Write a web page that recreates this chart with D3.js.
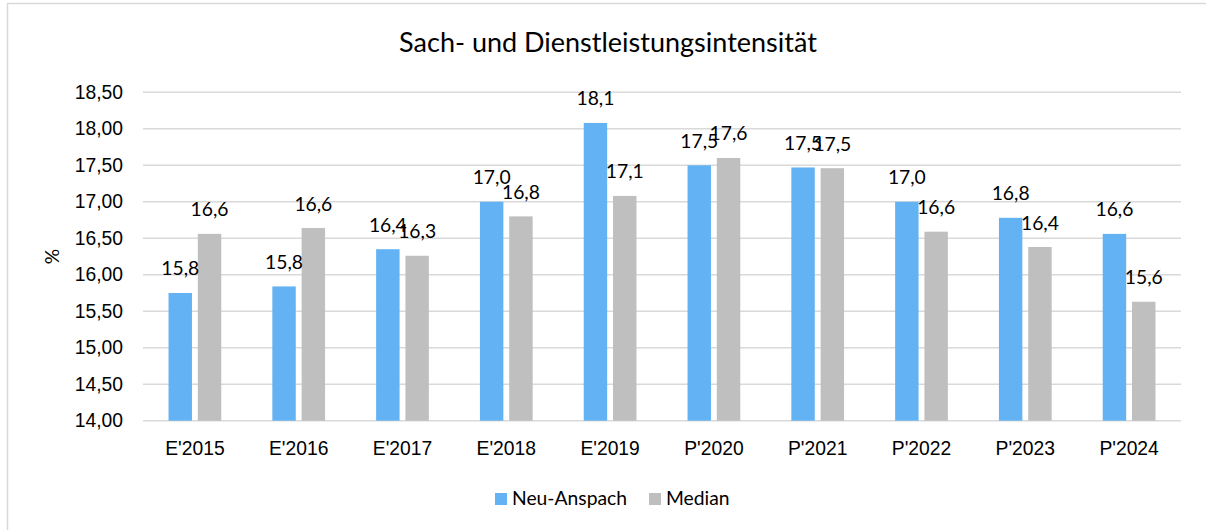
<!DOCTYPE html>
<html>
<head>
<meta charset="utf-8">
<script src="https://cdn.jsdelivr.net/npm/d3@7"></script>
<style>
  body { margin: 0; background: #fff; }
  svg { display: block; font-family: Lato, "Liberation Sans", sans-serif; }
</style>
</head>
<body>
<svg id="chart"></svg>
<script>
const categories = ["E'2015", "E'2016", "E'2017", "E'2018", "E'2019", "P'2020", "P'2021", "P'2022", "P'2023", "P'2024"];
const seriesNames = ["Neu-Anspach", "Median"];
const neuAnspach = [15.75, 15.84, 16.35, 17.00, 18.08, 17.50, 17.47, 17.00, 16.78, 16.56];
const median = [16.56, 16.64, 16.26, 16.80, 17.08, 17.60, 17.46, 16.59, 16.38, 15.63];
const yTicks = [14.0, 14.5, 15.0, 15.5, 16.0, 16.5, 17.0, 17.5, 18.0, 18.5];
const colors = ["#63b3f4", "#bfbfbf"];

const width = 1206, height = 530;
const fontSize = 19.3;
const svg = d3.select("#chart").attr("width", width).attr("height", height);

// chart frame (cut off at right and bottom like the reference)
svg.append("rect")
    .attr("x", 7.5).attr("y", 3.5)
    .attr("width", 1220).attr("height", 540)
    .attr("fill", "#fff").attr("stroke", "#d9d9d9").attr("stroke-width", 1.5);

const plot = { left: 143, right: 1181, top: 92.3, bottom: 420.7 };

const x0 = d3.scaleBand().domain(categories).range([plot.left, plot.right]);
const groupW = x0.bandwidth() * 0.508;
const x1 = d3.scaleBand().domain(seriesNames)
    .range([(x0.bandwidth() - groupW) / 2, (x0.bandwidth() + groupW) / 2])
    .paddingInner(0.2);
const y = d3.scaleLinear().domain([14, 18.5]).range([plot.bottom, plot.top]);

const fmtTick = v => d3.format(".2f")(v).replace(".", ",");
const fmtLabel = v => d3.format(".1f")(v).replace(".", ",");

// gridlines
svg.append("g")
    .selectAll("line")
    .data(yTicks)
    .join("line")
    .attr("x1", plot.left).attr("x2", plot.right)
    .attr("y1", d => y(d)).attr("y2", d => y(d))
    .attr("stroke", "#d9d9d9").attr("stroke-width", 1.5);

// y axis labels
const yAxis = d3.axisLeft(y).tickValues(yTicks).tickFormat(fmtTick).tickSize(0).tickPadding(20);
svg.append("g")
    .attr("transform", `translate(${plot.left}, 0)`)
    .call(yAxis)
    .call(g => g.select(".domain").remove())
    .call(g => g.selectAll("text").attr("font-size", fontSize).attr("fill", "#000").attr("font-family", null));

// x axis labels
const xAxis = d3.axisBottom(x0).tickSize(0).tickPadding(21);
svg.append("g")
    .attr("transform", `translate(0, ${plot.bottom})`)
    .call(xAxis)
    .call(g => g.select(".domain").remove())
    .call(g => g.selectAll("text").attr("font-size", fontSize).attr("fill", "#000").attr("font-family", null));

const rows = categories.map((c, i) => ({ cat: c, values: [
    { key: seriesNames[0], v: neuAnspach[i], color: colors[0] },
    { key: seriesNames[1], v: median[i], color: colors[1] }
]}));

const groups = svg.append("g")
    .selectAll("g")
    .data(rows)
    .join("g")
    .attr("transform", d => `translate(${x0(d.cat)}, 0)`);

groups.selectAll("rect")
    .data(d => d.values)
    .join("rect")
    .attr("x", d => x1(d.key))
    .attr("width", x1.bandwidth())
    .attr("y", d => y(d.v))
    .attr("height", d => y(14) - y(d.v))
    .attr("fill", d => d.color);

groups.selectAll("text")
    .data(d => d.values)
    .join("text")
    .attr("x", d => x1(d.key) + x1.bandwidth() / 2)
    .attr("y", d => y(d.v) - 17.5)
    .attr("text-anchor", "middle")
    .attr("font-size", fontSize)
    .attr("fill", "#000")
    .text(d => fmtLabel(d.v));

// title
svg.append("text")
    .attr("x", 608).attr("y", 52)
    .attr("text-anchor", "middle")
    .attr("font-size", 27)
    .attr("fill", "#000")
    .text("Sach- und Dienstleistungsintensität");

// y axis title
svg.append("text")
    .attr("transform", `translate(59, ${(plot.top + plot.bottom) / 2}) rotate(-90)`)
    .attr("text-anchor", "middle")
    .attr("font-size", fontSize)
    .attr("fill", "#000")
    .text("%");

// legend
const legendX = [495, 649];
const legend = svg.append("g")
    .selectAll("g")
    .data(seriesNames)
    .join("g")
    .attr("transform", (d, i) => `translate(${legendX[i]}, 493)`);
legend.append("rect")
    .attr("width", 12).attr("height", 12)
    .attr("fill", (d, i) => colors[i]);
legend.append("text")
    .attr("x", 17).attr("y", 12)
    .attr("font-size", fontSize)
    .attr("fill", "#000")
    .text(d => d);
</script>
</body>
</html>
